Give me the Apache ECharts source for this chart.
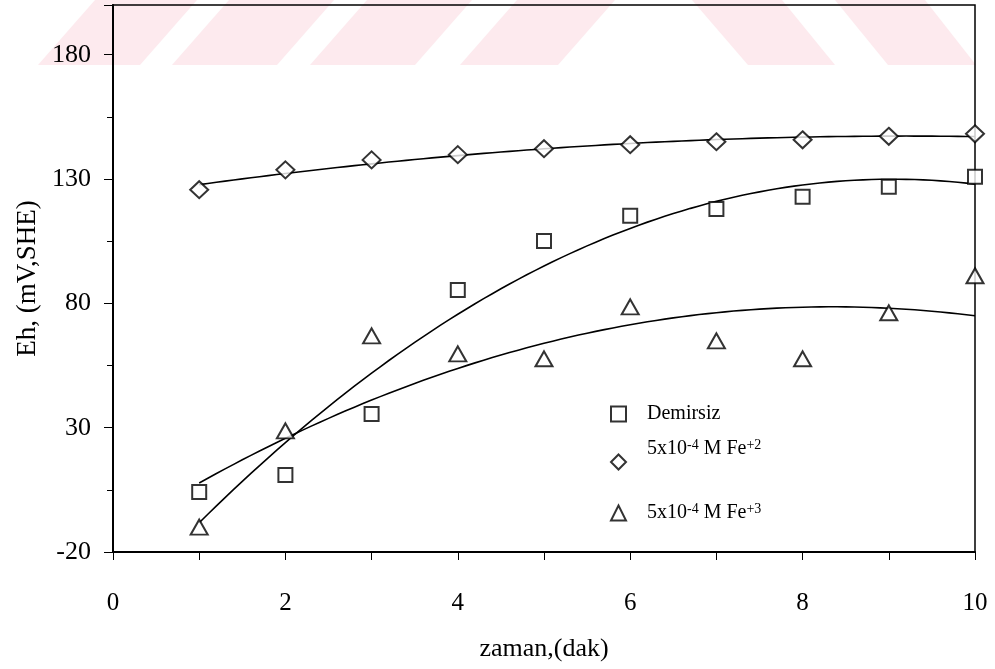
<!DOCTYPE html>
<html>
<head>
<meta charset="utf-8">
<script src="https://cdn.jsdelivr.net/npm/echarts@6/dist/echarts.min.js"></script>
<style>html,body{margin:0;padding:0;background:#fff}#c{width:995px;height:669px}</style>
</head>
<body>
<div id="c"></div>
<script>
// ---- data ----
const timeMin = [1, 2, 3, 4, 5, 6, 7, 8, 9, 10];
const demirsiz = [4.1, 11, 35.5, 85.4, 105.1, 115.2, 118.0, 122.9, 126.9, 130.9];
const fe2 = [125.7, 133.7, 137.7, 139.8, 142.2, 143.8, 145.0, 145.8, 147.2, 148.2];
const fe3 = [-10, 28.7, 66.9, 59.7, 57.7, 78.6, 64.9, 57.7, 76.2, 91.1];
const yTicks = [-20, 30, 80, 130, 180];
const xTickLabels = [0, 2, 4, 6, 8, 10];
const seriesNames = ['Demirsiz', '5x10-4 M Fe+2', '5x10-4 M Fe+3'];

// least-squares 2nd order polynomial fit (trend lines)
function polyfit2(xs, ys) {
  let s = [0,0,0,0,0], t = [0,0,0];
  for (let i = 0; i < xs.length; i++) {
    const x = xs[i], y = ys[i];
    let p = 1;
    for (let k = 0; k < 5; k++) { s[k] += p; if (k < 3) t[k] += p * y; p *= x; }
  }
  const A = [[s[0],s[1],s[2],t[0]],[s[1],s[2],s[3],t[1]],[s[2],s[3],s[4],t[2]]];
  for (let i = 0; i < 3; i++) {
    for (let j = i + 1; j < 3; j++) {
      const f = A[j][i] / A[i][i];
      for (let k = i; k < 4; k++) A[j][k] -= f * A[i][k];
    }
  }
  const c = [0,0,0];
  for (let i = 2; i >= 0; i--) {
    let v = A[i][3];
    for (let k = i + 1; k < 3; k++) v -= A[i][k] * c[k];
    c[i] = v / A[i][i];
  }
  return c;
}
function trend(ys) {
  const c = polyfit2(timeMin, ys);
  const pts = [];
  const x0 = timeMin[0], x1 = timeMin[timeMin.length - 1];
  for (let i = 0; i <= 90; i++) {
    const x = x0 + (x1 - x0) * i / 90;
    pts.push([x, c[0] + c[1] * x + c[2] * x * x]);
  }
  return pts;
}
const pairs = ys => timeMin.map((x, i) => [x, ys[i]]);

const font = 'Liberation Serif';
const markerStyle = { color: '#fff', borderColor: '#000', borderWidth: 2 };
const lineStyle = { color: '#000', width: 1.6 };

const rich = {
  a: { fontFamily: font, fontSize: 20, color: '#000', lineHeight: 22 },
  s: { fontFamily: font, fontSize: 14, color: '#000', verticalAlign: 'top', lineHeight: 22, padding: [0, 0, 10, 0] }
};
function legendFmt(name) {
  if (name === seriesNames[0]) return '{a|Demirsiz}';
  const ion = name.slice(-2);
  return '{a|5x10}{s|-4}{a| M Fe}{s|' + ion + '}';
}

// light pink watermark band at the top of the picture
const wm = '#fdeaee';
const wmShapes = [
  [[38,65],[140,65],[197,0],[95,0]],
  [[172,65],[277,65],[334,0],[229,0]],
  [[310,65],[415,65],[472,0],[367,0]],
  [[460,65],[558,65],[615,0],[517,0]],
  [[748,65],[835,65],[782,0],[692,0]],
  [[888,65],[976,65],[925,0],[835,0]]
];

const chart = echarts.init(document.getElementById('c'));
chart.setOption({
  backgroundColor: '#fff',
  animation: false,
  graphic: wmShapes.map(p => ({ type: 'polygon', z: -10, silent: true, shape: { points: p }, style: { fill: wm } })),
  grid: { left: 113, right: 20, top: 5, bottom: 117, show: true, borderColor: '#000', borderWidth: 1.5, backgroundColor: 'transparent' },
  xAxis: {
    type: 'value', min: 0, max: 10, interval: 1,
    name: 'zaman,(dak)', nameLocation: 'middle', nameGap: 84,
    nameTextStyle: { fontFamily: font, fontSize: 26, color: '#000' },
    axisLine: { onZero: false, lineStyle: { color: '#000', width: 2 } },
    axisTick: { show: true, inside: false, length: 8, lineStyle: { color: '#000', width: 1 } },
    axisLabel: { margin: 39, fontFamily: font, fontSize: 25, color: '#000',
      formatter: v => xTickLabels.indexOf(v) >= 0 ? String(v) : '' },
    splitLine: { show: false }
  },
  yAxis: {
    type: 'value', min: -20, max: 200, interval: 50,
    name: 'Eh, (mV,SHE)', nameLocation: 'middle', nameGap: 72,
    nameTextStyle: { fontFamily: font, fontSize: 27, color: '#000' },
    axisLine: { onZero: false, lineStyle: { color: '#000', width: 2 } },
    axisTick: { show: true, inside: false, length: 9, lineStyle: { color: '#000', width: 1 } },
    minorTick: { show: true, splitNumber: 2, length: 6, lineStyle: { color: '#000', width: 1 } },
    axisLabel: { margin: 22, fontFamily: font, fontSize: 26, color: '#000',
      formatter: v => yTicks.indexOf(v) >= 0 ? String(v) : '' },
    splitLine: { show: false }
  },
  legend: [0, 1, 2].map((i) => ({
    data: [seriesNames[i]],
    left: 605,
    top: [399, 433, 497][i],
    orient: 'vertical',
    itemWidth: 15, itemHeight: 15,
    itemGap: 4,
    formatter: legendFmt,
    textStyle: { rich: rich, padding: i === 1 ? [0, 0, 26, 16] : [0, 0, 0, 16] }
  })),
  series: [
    { name: seriesNames[0], type: 'scatter', symbol: 'rect', symbolSize: 14, data: pairs(demirsiz), itemStyle: markerStyle, z: 5 },
    { name: seriesNames[1], type: 'scatter', symbol: 'diamond', symbolSize: [18, 17], data: pairs(fe2), itemStyle: markerStyle, z: 5 },
    { name: seriesNames[2], type: 'scatter', symbol: 'triangle', symbolSize: [17, 15], data: pairs(fe3), itemStyle: markerStyle, z: 5 },
    { name: 't0', type: 'line', showSymbol: false, smooth: false, data: trend(demirsiz), lineStyle: lineStyle, z: 3 },
    { name: 't1', type: 'line', showSymbol: false, smooth: false, data: trend(fe2), lineStyle: lineStyle, z: 3 },
    { name: 't2', type: 'line', showSymbol: false, smooth: false, data: trend(fe3), lineStyle: lineStyle, z: 3 }
  ]
});
</script>
</body>
</html>
